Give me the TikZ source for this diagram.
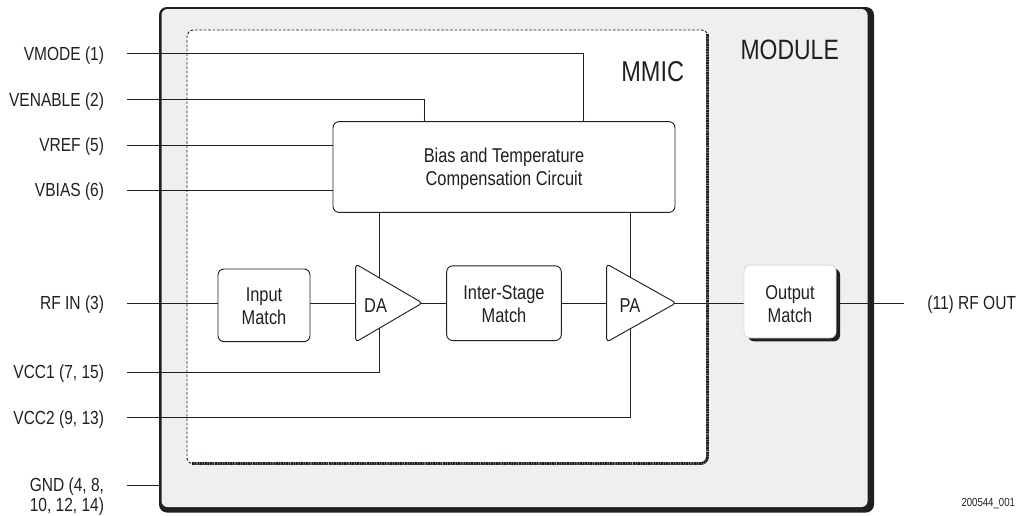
\documentclass[tikz,border=0pt]{standalone}
\usepackage{fontspec}
\setmainfont[FakeStretch=0.82]{Liberation Sans}
\usetikzlibrary{shapes.geometric,shadows}
\definecolor{ink}{HTML}{231F20}
\definecolor{modfill}{HTML}{EFEFF0}
\definecolor{softedge}{HTML}{DCDCDC}
\pgfdeclarelayer{back}\pgfdeclarelayer{wires}
\pgfsetlayers{back,wires,main}
\newcommand{\twolines}[3]{\raisebox{#1}[14pt][14pt]{\begin{tabular}{@{}c@{}}#2\\#3\end{tabular}}}
\newcommand{\amptext}[2]{\raisebox{-1.6pt}[10.4pt][0pt]{\makebox[0pt]{\hspace*{#1}#2}}}
\tikzset{
  x=0.75pt,y=-0.75pt,
  every node/.style={text=ink,align=center,inner sep=0pt,outer sep=0pt},
  pin/.style={anchor=east,font=\fontsize{14.2}{15}\selectfont,text height=10.4pt,text depth=0pt},
  wire/.style={draw=ink,line width=0.75pt},
  pinwire/.style={wire,shorten <=17.25pt},
  block/.style={draw=ink,line width=0.7pt,fill=white,rounded corners=4.5pt,minimum width=#1,font=\fontsize{15}{17.4}\selectfont},
  ampl/.style={isosceles triangle,isosceles triangle stretches,
     draw=ink,line width=0.7pt,fill=white,rounded corners=2.5pt,minimum width=58.5pt,minimum height=51.5pt,
     anchor=lower side,font=\fontsize{15}{17}\selectfont},
}
\begin{document}
\begin{tikzpicture}
\useasboundingbox (0,0) rectangle (1032,515);
\begin{pgfonlayer}{back}
  \fill[ink,rounded corners=6pt] (159,7) rectangle (874,512.5);
  \node[fill=modfill,rounded corners=4.5pt,minimum width=529.5pt,minimum height=373.5pt] (module) at (514.5,258) {};
  \fill[white,rounded corners=5pt] (187,30) rectangle (708,464);
  \draw[ink,line width=0.7pt,dash pattern=on 2pt off 1.3pt,rounded corners=5pt] (708,464) -- (187,464) -- (187,30) -- (708,30) -- cycle;
  \draw[ink,line width=2.1pt,dash pattern=on 1.5pt off 0.4pt,rounded corners=5pt] (707.5,34) -- (707.5,463.5) -- (192,463.5);
\end{pgfonlayer}
\node[font=\fontsize{21}{25}\selectfont] (module label) at (789.7,50) {MODULE};
\node[font=\fontsize{21.5}{25}\selectfont] (mmic label) at (652.7,72) {MMIC};

\node[pin] (vmode) at (104,53.5) {VMODE (1)};
\node[pin] (venable) at (104,99.3) {VENABLE (2)};
\node[pin] (vref) at (104,145) {VREF (5)};
\node[pin] (vbias) at (104,190) {VBIAS (6)};
\node[pin] (rfin) at (104,303) {RF IN (3)};
\node[pin] (vcc1) at (104,372) {VCC1 (7, 15)};
\node[pin] (vcc2) at (104,417.7) {VCC2 (9, 13)};
\node[anchor=east,font=\fontsize{14.2}{15}\selectfont] (gnd) at (104,497) {GND (4, 8,\\10, 12, 14)};
\node[pin] (rfout) at (1016,303) {(11) RF OUT};
\node[anchor=east,font=\fontsize{8.8}{10}\selectfont] (code) at (1015,504) {200544\_001};

\node[block=256.5pt,minimum height=68pt] (bias) at (504,167) {\twolines{-5.2pt}{Bias and Temperature}{Compensation Circuit}};
\node[block=69pt,minimum height=54.5pt] (input) at (264,305.3) {\twolines{-5.6pt}{Input}{Match}};
\node[block=86pt,minimum height=56pt] (inter) at (504,303.2) {\twolines{-6.2pt}{Inter-Stage}{Match}};
\node[block=69pt,minimum height=54.5pt,draw=softedge,
      general shadow={shadow xshift=3pt,shadow yshift=-2.6pt,fill=ink,rounded corners=4.5pt}] (output) at (790,301.5) {\twolines{-7.1pt}{Output}{Match}};
\node[ampl,minimum height=50pt] (da) at (355.7,303) {\amptext{2.2pt}{DA}};
\node[ampl,minimum height=52pt] (pa) at (606.7,303) {\amptext{6.7pt}{PA}};

\coordinate (bias a) at (583,121.5);
\coordinate (bias b) at (424.7,121.5);
\coordinate (mod left) at (160,485);
\coordinate (da rail) at (379,300);
\coordinate (pa rail) at (630,300);
\begin{pgfonlayer}{wires}
  \draw[pinwire] (vmode.east) -| (bias a);
  \draw[pinwire] (venable.east) -| (bias b);
  \draw[pinwire] (vref.east) -- (vref.east -| bias.west);
  \draw[pinwire] (vbias.east) -- (vbias.east -| bias.west);
  \draw[pinwire] (rfin.east) -- (rfin.east -| input.west);
  \draw[pinwire] (vcc1.east) -| (da rail);
  \draw[pinwire] (vcc2.east) -| (pa rail);
  \draw[pinwire] (gnd.east |- mod left) -- (mod left);
  \draw[wire] (bias.south -| da rail) -- (da rail);
  \draw[wire] (bias.south -| pa rail) -- (pa rail);
  \draw[wire] (input.east |- rfin.east) -- (da.lower side);
  \draw[wire,shorten <=-3pt] (da.apex) -- (da.apex -| inter.west);
  \draw[wire] (inter.east |- pa.lower side) -- (pa.lower side);
  \draw[wire,shorten <=-3pt] (pa.apex) -- (output.west |- pa.apex);
  \draw[wire,shorten >=17.25pt] (output.east |- rfout.west) -- (rfout.west);
\end{pgfonlayer}
\end{tikzpicture}
\end{document}
